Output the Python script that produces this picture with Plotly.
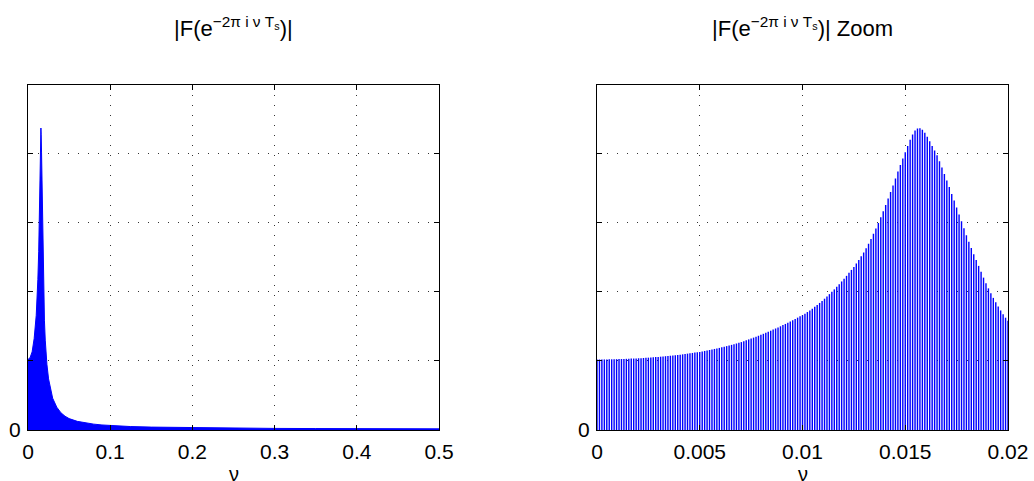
import plotly.graph_objects as go

# ---------------- data ----------------
nu_full = [0, 0.0025, 0.005, 0.0075, 0.01, 0.011, 0.012, 0.013, 0.014, 0.0145,
           0.015, 0.0155, 0.0157, 0.016, 0.0165, 0.017, 0.0175, 0.018, 0.0185,
           0.019, 0.0195, 0.02, 0.021, 0.022, 0.023, 0.025, 0.0275, 0.03, 0.035,
           0.04, 0.045, 0.05, 0.06, 0.07, 0.08, 0.09, 0.1, 0.125, 0.15, 0.175,
           0.2, 0.25, 0.3, 0.35, 0.4, 0.45, 0.5]
mag_full = [1.02, 1.047, 1.13, 1.324, 1.66, 1.88, 2.18, 2.58, 3.22, 3.62,
            4.02, 4.33, 4.37, 4.28, 4.01, 3.63, 3.22, 2.80, 2.42,
            2.08, 1.80, 1.58, 1.30, 1.10, 0.95, 0.74, 0.57, 0.46, 0.33,
            0.25, 0.20, 0.165, 0.125, 0.10, 0.085, 0.073, 0.064, 0.05, 0.042, 0.037,
            0.033, 0.027, 0.023, 0.021, 0.019, 0.018, 0.017]

zoom_step = 0.02 / 168
mag_zoom = [
    1.020, 1.020, 1.021, 1.021, 1.022, 1.023, 1.023, 1.024, 1.025, 1.026,
    1.027, 1.029, 1.030, 1.031, 1.033, 1.034, 1.036, 1.038, 1.040, 1.042,
    1.045, 1.047, 1.050, 1.052, 1.055, 1.058, 1.061, 1.064, 1.068, 1.071,
    1.075, 1.079, 1.083, 1.087, 1.090, 1.095, 1.100, 1.105, 1.110, 1.115,
    1.120, 1.125, 1.130, 1.137, 1.144, 1.151, 1.158, 1.165, 1.173, 1.180,
    1.188, 1.196, 1.205, 1.214, 1.223, 1.232, 1.242, 1.252, 1.262, 1.272,
    1.285, 1.298, 1.311, 1.324, 1.337, 1.350, 1.364, 1.378, 1.392, 1.407,
    1.422, 1.437, 1.453, 1.469, 1.485, 1.501, 1.518, 1.535, 1.553, 1.571,
    1.589, 1.607, 1.626, 1.645, 1.660, 1.683, 1.707, 1.731, 1.755, 1.782,
    1.810, 1.839, 1.868, 1.900, 1.933, 1.966, 2.000, 2.035, 2.073, 2.111,
    2.150, 2.189, 2.231, 2.274, 2.317, 2.360, 2.410, 2.462, 2.516, 2.570,
    2.630, 2.695, 2.765, 2.840, 2.915, 2.995, 3.080, 3.165, 3.255, 3.350,
    3.445, 3.540, 3.640, 3.740, 3.835, 3.930, 4.020, 4.110, 4.200, 4.275,
    4.335, 4.365, 4.368, 4.345, 4.300, 4.245, 4.180, 4.110, 4.045, 3.975,
    3.890, 3.800, 3.705, 3.610, 3.515, 3.415, 3.320, 3.220, 3.120, 3.020,
    2.920, 2.820, 2.725, 2.635, 2.545, 2.460, 2.375, 2.290, 2.205, 2.125,
    2.050, 1.980, 1.912, 1.848, 1.788, 1.730, 1.675, 1.625, 1.580]
nu_zoom = [round(k * zoom_step, 7) for k in range(len(mag_zoom))]

x1_ticks = [0, 0.1, 0.2, 0.3, 0.4, 0.5]
x1_labels = ["0", "0.1", "0.2", "0.3", "0.4", "0.5"]
x2_ticks = [0, 0.005, 0.01, 0.015, 0.02]
x2_labels = ["0", "0.005", "0.01", "0.015", "0.02"]
y_ticks = [0, 1, 2, 3, 4, 5]
y_labels = ["0", "", "", "", "", ""]

x_title = "ν"
title_left = "|F(e<sup>−2π i ν T<sub>s</sub></sup>)|"
title_right = "|F(e<sup>−2π i ν T<sub>s</sub></sup>)| Zoom"

# ---------------- figure ----------------
W, H = 1034, 481
FONT = "Liberation Sans, Arial, Helvetica, sans-serif"

fig = go.Figure()
fig.add_trace(go.Scatter(x=nu_full, y=mag_full, mode="lines",
                         line=dict(color="#0000ff", width=1),
                         fill="tozeroy", fillcolor="#0000ff",
                         xaxis="x", yaxis="y", hoverinfo="skip"))
fig.add_trace(go.Bar(x=nu_zoom, y=mag_zoom,
                     marker=dict(color="#0000ff", line=dict(width=0)),
                     xaxis="x2", yaxis="y2", hoverinfo="skip"))

def xdom(l, r):
    return [l / W, r / W]

ydom = [(H - 430) / H, (H - 84.5) / H]

common_axis = dict(
    showline=True, linecolor="black", linewidth=1, mirror="allticks",
    ticks="inside", ticklen=5, tickcolor="black", tickwidth=1,
    showgrid=True, gridcolor="#333333", gridwidth=1, griddash="1px,9px",
    zeroline=False, automargin=False,
    tickfont=dict(family=FONT, size=21, color="black"),
)

def text_ann(text, xpx, ypx, size, yanchor="middle"):
    return dict(text=text, x=xpx / W, y=(H - ypx) / H, xref="paper", yref="paper",
                xanchor="center", yanchor=yanchor, showarrow=False,
                font=dict(family=FONT, size=size, color="black"))

fig.update_layout(
    width=W, height=H,
    margin=dict(l=0, r=0, t=0, b=0, autoexpand=False),
    paper_bgcolor="white", plot_bgcolor="white",
    showlegend=False, bargap=0.42,
    font=dict(family=FONT, color="black"),
    xaxis=dict(domain=xdom(28, 439), range=[0, 0.5], tickvals=x1_ticks,
               ticktext=x1_labels, anchor="y", ticklabelstandoff=3, **common_axis),
    yaxis=dict(domain=ydom, range=[0, 5], tickvals=y_ticks, ticktext=y_labels,
               anchor="x", ticklabelstandoff=2, **common_axis),
    xaxis2=dict(domain=xdom(597, 1008), range=[0, 0.02], tickvals=x2_ticks,
                ticktext=x2_labels, anchor="y2", ticklabelstandoff=3, **common_axis),
    yaxis2=dict(domain=ydom, range=[0, 5], tickvals=y_ticks, ticktext=y_labels,
                anchor="x2", ticklabelstandoff=2, **common_axis),
    annotations=[
        text_ann(title_left, 233.5, 27, 22),
        text_ann(title_right, 802.5, 27, 22),
        text_ann(x_title, 233.5, 487, 20, yanchor="bottom"),
        text_ann(x_title, 802.5, 487, 20, yanchor="bottom"),
    ],
)

fig.write_html(
    "out.html",
    config={"displayModeBar": False, "staticPlot": True},
    post_script="document.body.style.margin='0';document.body.style.overflow='hidden';",
)
